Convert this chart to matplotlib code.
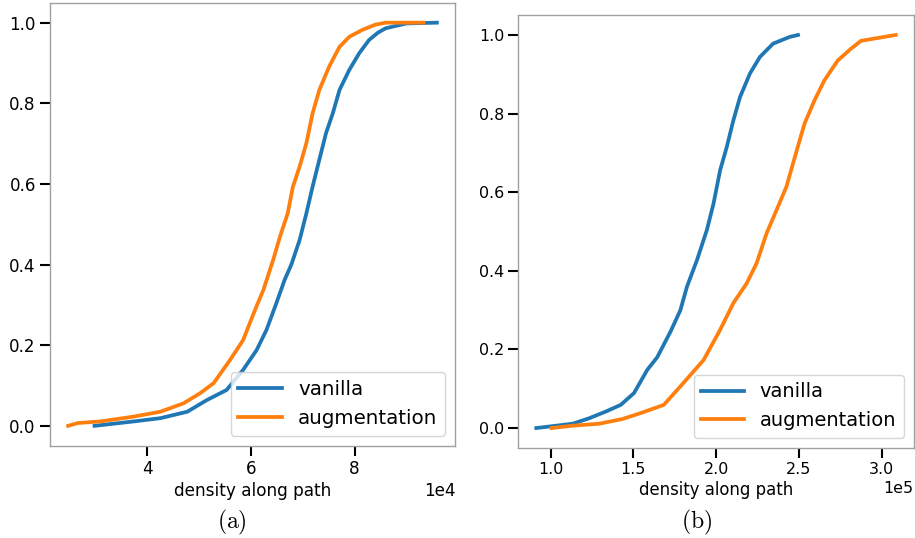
import matplotlib
matplotlib.use("Agg")
import matplotlib.pyplot as plt
from matplotlib.ticker import MultipleLocator

# ---- data ----
labels = ["vanilla", "augmentation"]

# panel (a): x in units of 1e4
a_van_x = [2.98, 3.74, 4.25, 4.77, 5.15, 5.53, 5.85, 6.11, 6.30, 6.49, 6.65, 6.78, 6.94,
           7.07, 7.19, 7.32, 7.45, 7.58, 7.71, 7.90, 8.09, 8.28, 8.45, 8.60, 9.00, 9.59]
a_van_y = [0.0, 0.011, 0.019, 0.035, 0.064, 0.089, 0.139, 0.188, 0.238, 0.304, 0.362, 0.400, 0.461,
           0.527, 0.593, 0.660, 0.726, 0.775, 0.833, 0.883, 0.924, 0.957, 0.975, 0.986, 0.998, 1.0]
a_aug_x = [2.47, 2.66, 3.10, 3.74, 4.25, 4.70, 5.02, 5.28, 5.60, 5.85, 6.08, 6.24, 6.43, 6.56,
           6.71, 6.81, 6.94, 7.07, 7.19, 7.32, 7.51, 7.71, 7.90, 8.15, 8.40, 8.60, 9.33]
a_aug_y = [0.0, 0.007, 0.011, 0.023, 0.035, 0.056, 0.081, 0.106, 0.164, 0.213, 0.288, 0.337, 0.412, 0.469,
           0.527, 0.593, 0.643, 0.701, 0.775, 0.833, 0.891, 0.940, 0.965, 0.982, 0.995, 1.0, 1.0]

# panel (b): x in units of 1e5
b_van_x = [0.914, 1.034, 1.134, 1.234, 1.334, 1.424, 1.504, 1.584, 1.644, 1.724, 1.784, 1.824,
           1.884, 1.944, 1.984, 2.024, 2.064, 2.104, 2.144, 2.204, 2.264, 2.344, 2.444, 2.494]
b_van_y = [0.0, 0.006, 0.011, 0.025, 0.042, 0.059, 0.089, 0.148, 0.180, 0.245, 0.300, 0.360,
           0.427, 0.504, 0.571, 0.656, 0.715, 0.783, 0.842, 0.902, 0.944, 0.978, 0.995, 1.0]
b_aug_x = [1.006, 1.134, 1.294, 1.434, 1.544, 1.684, 1.784, 1.924, 2.024, 2.104, 2.184, 2.244, 2.304,
           2.364, 2.424, 2.464, 2.504, 2.534, 2.594, 2.654, 2.734, 2.814, 2.874, 3.014, 3.084]
b_aug_y = [0.0, 0.006, 0.011, 0.023, 0.038, 0.059, 0.106, 0.173, 0.250, 0.318, 0.368, 0.419, 0.495,
           0.554, 0.614, 0.673, 0.732, 0.775, 0.834, 0.885, 0.935, 0.965, 0.985, 0.995, 1.0]

xlabel = "density along path"
captions = ["(a)", "(b)"]
colors = ["#1f77b4", "#ff7f0e"]

W, H = 915, 538
fig = plt.figure(figsize=(W / 100, H / 100), dpi=100)

def px_axes(l, t, r, b):
    return fig.add_axes([l / W, 1 - b / H, (r - l) / W, (b - t) / H])

ax_a = px_axes(49.7, 2.5, 455.3, 446)
ax_b = px_axes(518.3, 15.3, 913.7, 447.7)

panels = [
    (ax_a, [(a_van_x, a_van_y), (a_aug_x, a_aug_y)], 1e4, 2e4, 12.1, 12.2, 14.3),
    (ax_b, [(b_van_x, b_van_y), (b_aug_x, b_aug_y)], 1e5, 0.5e5, 11.4, 11.9, 14.0),
]

for ax, series, scale, step, tfs, lfs, gfs in panels:
    for (xs, ys), lab, c in zip(series, labels, colors):
        ax.plot([v * scale for v in xs], ys, color=c, lw=2.7, label=lab)
    ax.xaxis.set_major_locator(MultipleLocator(step))
    ax.ticklabel_format(axis="x", style="sci", scilimits=(0, 0))
    ax.xaxis.get_offset_text().set_fontsize(tfs)
    for s in ax.spines.values():
        s.set_color("#a0a0a0")
        s.set_linewidth(1.0)
    ax.tick_params(axis="both", which="major", length=7.5, width=1.5,
                   color="black", labelsize=tfs, pad=2.5)
    ax.set_xlabel(xlabel, fontsize=lfs, labelpad=3)
    ax.set_yticks([0.0, 0.2, 0.4, 0.6, 0.8, 1.0])
    ax.legend(loc="lower right", fontsize=gfs, handlelength=2.2)

for xc, cap in zip([232, 697], captions):
    fig.text(xc / W, 1 - 522 / H, r"$\mathrm{" + cap + "}$", ha="center", va="center",
             fontsize=17, math_fontfamily="cm")

fig.savefig("out.png", dpi=100)
